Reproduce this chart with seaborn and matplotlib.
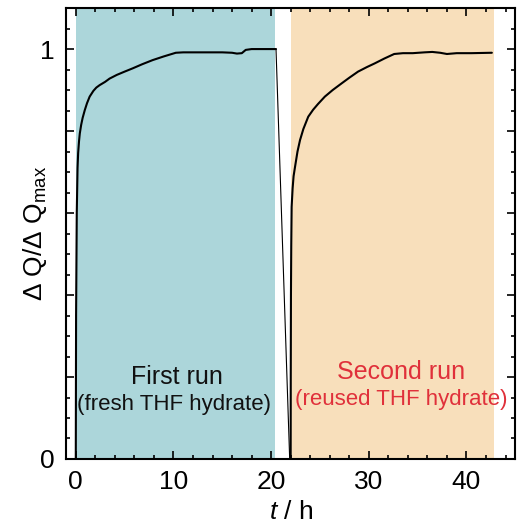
import numpy as np
import pandas as pd
import seaborn as sns
import matplotlib.pyplot as plt
from matplotlib.ticker import MultipleLocator

# data
t_first = [0.0, 0.03, 0.1, 0.18, 0.24, 0.33, 0.41, 0.55, 0.7, 0.92, 1.15, 1.42, 1.8, 2.1, 2.44, 3.0, 3.46,
           4.2, 5.0, 5.83, 6.8, 7.86, 9.0, 10.24, 11.0, 13.0, 15.0, 16.0, 16.5, 17.0, 17.4, 18.0, 20.5]
q_first = [0.0, 0.35, 0.6, 0.71, 0.746, 0.775, 0.794, 0.815, 0.832, 0.851, 0.868, 0.884, 0.898, 0.906, 0.912,
           0.92, 0.928, 0.937, 0.945, 0.953, 0.963, 0.973, 0.982, 0.991, 0.992, 0.992, 0.992, 0.991, 0.989,
           0.99, 0.998, 1.0, 1.0]

t_drop = [20.5, 21.9]
q_drop = [1.0, 0.0]

t_second = [22.0, 22.01, 22.03, 22.06, 22.1, 22.2, 22.3, 22.45, 22.7, 22.96, 23.3, 23.8, 24.3, 24.8, 25.5,
            26.3, 27.2, 28.0, 28.9, 29.8, 30.6, 31.6, 32.6, 33.5, 34.5, 35.7, 36.5, 37.3, 38.0, 39.0, 40.5, 42.6]
q_second = [0.0, 0.2, 0.4, 0.52, 0.615, 0.66, 0.69, 0.713, 0.75, 0.778, 0.805, 0.835, 0.852, 0.866, 0.884,
            0.9, 0.916, 0.93, 0.945, 0.956, 0.965, 0.977, 0.988, 0.99, 0.99, 0.992, 0.993, 0.991, 0.988, 0.99,
            0.99, 0.991]

spans = [(0.0, 20.4), (22.0, 42.8)]
span_colors = ['#acd6da', '#f8dfbb']

df1 = pd.DataFrame({'t': t_first, 'q': q_first})
df2 = pd.DataFrame({'t': t_second, 'q': q_second})
dfd = pd.DataFrame({'t': t_drop, 'q': q_drop})

sns.set_style('ticks', {'axes.edgecolor': 'black', 'text.color': 'black',
                        'xtick.color': 'black', 'ytick.color': 'black', 'axes.labelcolor': 'black'})
plt.rcParams['font.family'] = ['Liberation Sans', 'DejaVu Sans']
plt.rcParams['mathtext.fontset'] = 'custom'
plt.rcParams['mathtext.rm'] = 'Liberation Sans'
plt.rcParams['mathtext.it'] = 'Liberation Sans:italic'

fig = plt.figure(figsize=(5.17, 5.28), dpi=100)
ax = fig.add_axes([0.1277, 0.1307, 0.869, 0.854])

for (a, b), c in zip(spans, span_colors):
    ax.axvspan(a, b, color=c, lw=0, zorder=0)

sns.lineplot(data=df1, x='t', y='q', color='black', lw=1.5, ax=ax, sort=False)
sns.lineplot(data=dfd, x='t', y='q', color='black', lw=0.8, ax=ax, sort=False)
sns.lineplot(data=df2, x='t', y='q', color='black', lw=1.5, ax=ax, sort=False)

ax.set_xlim(-1, 45)
ax.set_ylim(0, 1.1)
ax.xaxis.set_major_locator(MultipleLocator(10))
ax.xaxis.set_minor_locator(MultipleLocator(2))
ax.set_yticks([0, 0.2, 0.4, 0.6, 0.8, 1.0])
ax.set_yticklabels(['0', '', '', '', '', '1'])
ax.yaxis.set_minor_locator(MultipleLocator(0.05))
ax.tick_params(which='both', direction='in', top=True, right=True, labelsize=19, width=1.2)
ax.tick_params(which='major', length=6)
ax.tick_params(which='minor', length=3)
ax.tick_params(axis='x', pad=8)
ax.tick_params(axis='y', pad=8)
for s in ax.spines.values():
    s.set_linewidth(1.5)

ax.set_xlabel(r'$t$ / h', fontsize=19, labelpad=4)
ax.set_ylabel('\u0394 Q/\u0394 Q$_{\\mathrm{max}}$', fontsize=19, labelpad=-6)

ax.text(10.4, 0.2, 'First run', fontsize=18, ha='center', va='center', color='#111111')
ax.text(10.1, 0.132, '(fresh THF hydrate)', fontsize=16, ha='center', va='center', color='#111111')
ax.text(33.3, 0.212, 'Second run', fontsize=18, ha='center', va='center', color='#e0303a')
ax.text(33.3, 0.144, '(reused THF hydrate)', fontsize=16, ha='center', va='center', color='#e0303a')

plt.savefig('out.png', dpi=100)
